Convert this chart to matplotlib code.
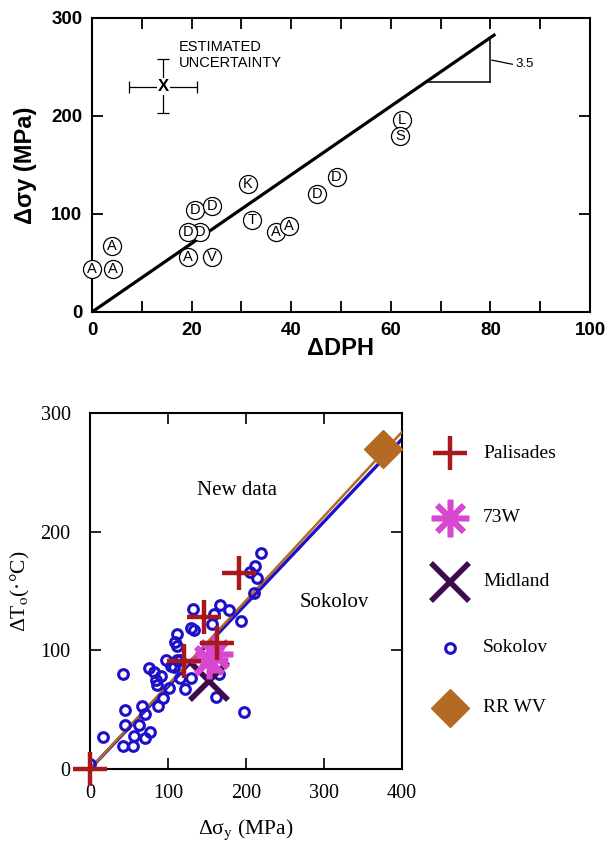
import numpy as np
import matplotlib
matplotlib.use("Agg")
import matplotlib.pyplot as plt

plt.rcParams["mathtext.fontset"] = "stix"

# ── upper panel: yield strength change vs hardness change ──────────────────
letters = ["A", "A", "A", "A", "V", "D", "D", "D", "D", "K", "T", "A", "A",
           "D", "D", "L", "S"]
d_dph = [0.0, 4.2, 4.0, 19.2, 24.1, 21.6, 19.2, 20.7, 24.1, 31.3, 32.1, 37.0,
         39.5, 45.2, 49.1, 62.3, 61.8]
d_sy = [44, 44, 67, 56.6, 56, 82, 82, 104, 108.4, 130.5, 94.2, 81.3, 88.1,
        120.3, 137.9, 195.5, 179.6]
fit_slope = 3.5
fit_xmax = 81.0
unc_x, unc_y = 14.3, 230.0
unc_dx = (7.4, 21.1)
unc_dy = (202.7, 258.6)

# ── lower panel: transition temperature shift vs yield strength change ─────
palisades_sy = [0, 120, 146, 163, 191]
palisades_t = [0, 91, 128, 106, 165]
w73_sy = [152, 159]
w73_t = [92, 97]
midland_sy = [152]
midland_t = [74]
rrwv_sy = [375]
rrwv_t = [270]
sokolov_sy = [0, 17, 42, 45, 45, 42, 55, 57, 63, 70, 77, 67, 70, 75, 82, 84,
              91, 86, 87, 93, 97, 101, 104, 112, 109, 112, 115, 116, 122,
              130, 132, 129, 133, 159, 157, 167, 178, 193, 165, 161, 197,
              219, 212, 214, 205, 210, 111, 108]
sokolov_t = [4, 27, 80, 50, 37, 19, 19, 28, 37, 26, 31, 53, 46, 85, 82, 75,
             78, 71, 53, 60, 92, 68, 87, 114, 107, 104, 92, 77, 67, 77, 135,
             119, 117, 131, 122, 138, 134, 125, 80, 61, 48, 182, 171, 161,
             166, 148, 92, 86]
sokolov_slope = 0.695
newdata_slope = 0.71

C = {
    "palisades": "#a8191e",
    "w73": "#d847cf",
    "midland": "#3e0c4e",
    "sokolov": "#1e10c8",
    "rrwv": "#b46a22",
}

fig = plt.figure(figsize=(6.06, 8.41), dpi=100)
W, H = 606, 841


def box(l, t, r, b):
    return [l / W, 1 - b / H, (r - l) / W, (b - t) / H]


# ═════════════════════════ upper panel ═════════════════════════════════════
sans = "Liberation Sans"
ax1 = fig.add_axes(box(92, 18, 590, 312))
ax1.set_xlim(0, 100)
ax1.set_ylim(0, 300)
ax1.set_xticks(range(0, 101, 20))
ax1.set_xticks(range(10, 100, 20), minor=True)
ax1.set_yticks([0, 100, 200, 300])
ax1.tick_params(which="both", direction="in", top=True, right=True,
                length=8, width=1.3, pad=7)
for lab in ax1.get_xticklabels() + ax1.get_yticklabels():
    lab.set_fontfamily(sans)
    lab.set_fontweight("bold")
    lab.set_fontsize(13.5)
for sp in ax1.spines.values():
    sp.set_linewidth(1.5)

xs = np.array([0, fit_xmax])
ax1.plot(xs, fit_slope * xs, color="black", lw=2.3, zorder=2,
         solid_capstyle="butt")

# slope triangle
y_base = 235
x_base = y_base / fit_slope
ax1.plot([x_base, 80], [y_base, y_base], color="black", lw=1.1)
ax1.plot([80, 80], [y_base, fit_slope * 80], color="black", lw=1.1)
ax1.plot([80.3, 84.4], [257, 252.8], color="black", lw=0.9)
ax1.text(85.0, 253, "3.5", fontsize=9.5, family=sans, va="center")

# estimated uncertainty cross
ax1.errorbar([unc_x], [unc_y],
             xerr=[[unc_x - unc_dx[0]], [unc_dx[1] - unc_x]],
             yerr=[[unc_y - unc_dy[0]], [unc_dy[1] - unc_y]],
             fmt="none", ecolor="black", elinewidth=0.9, capsize=4,
             capthick=0.9)
ax1.text(unc_x, unc_y, "X", fontsize=12, family=sans, fontweight="bold",
         ha="center", va="center",
         bbox=dict(boxstyle="square,pad=0.05", fc="white", ec="none"))
ax1.text(17.4, 262, "ESTIMATED\nUNCERTAINTY", fontsize=10.5, family=sans,
         va="center", linespacing=1.2)

for i, (lt, x, y) in enumerate(zip(letters, d_dph, d_sy)):
    ax1.plot([x], [y], marker="o", ms=13, mfc="white", mec="black",
             mew=0.9, zorder=3 + 2 * i, clip_on=False)
    ax1.text(x, y, lt, fontsize=10.5, family=sans, ha="center",
             va="center", zorder=4 + 2 * i)

ax1.set_xlabel("ΔDPH", fontsize=17, family=sans, fontweight="bold",
               labelpad=-1)
ax1.set_ylabel("Δσy (MPa)", fontsize=17, family=sans, fontweight="bold",
               labelpad=10)

# ═════════════════════════ lower panel ═════════════════════════════════════
serif = "Liberation Serif"
ax2 = fig.add_axes(box(90, 413, 402, 769))
ax2.set_xlim(0, 400)
ax2.set_ylim(0, 300)
ax2.set_xticks([0, 100, 200, 300, 400])
ax2.set_yticks([0, 100, 200, 300])
ax2.tick_params(direction="in", top=True, right=True, length=8, width=1.2)
ax2.tick_params(axis="x", pad=11)
ax2.tick_params(axis="y", pad=14)
for lab in ax2.get_xticklabels() + ax2.get_yticklabels():
    lab.set_fontfamily(serif)
    lab.set_fontsize(14.5)
for sp in ax2.spines.values():
    sp.set_linewidth(1.5)

xx = np.array([0, 400])
ax2.plot(xx, sokolov_slope * xx, color=C["sokolov"], lw=2.4, zorder=2)
ax2.plot(xx, newdata_slope * xx, color=C["rrwv"], lw=1.8, zorder=3)

ax2.plot(sokolov_sy, sokolov_t, ls="none", marker="o", ms=7, mfc="none",
         mec=C["sokolov"], mew=2.2, zorder=4)
ax2.plot(midland_sy, midland_t, ls="none", marker="x", ms=27,
         mec=C["midland"], mew=4.0, zorder=5)
ax2.plot(w73_sy, w73_t, ls="none", marker=(8, 2, 0), ms=27,
         mec=C["w73"], mew=4.0, zorder=6)
ax2.plot(palisades_sy, palisades_t, ls="none", marker="+", ms=25,
         mec=C["palisades"], mew=3.2, zorder=7, clip_on=False)
ax2.plot(rrwv_sy, rrwv_t, ls="none", marker="D", ms=19,
         mfc=C["rrwv"], mec=C["rrwv"], zorder=8)

ax2.text(188, 235, "New data", fontsize=15, family=serif, ha="center",
         va="center")
ax2.text(313, 140, "Sokolov", fontsize=15, family=serif, ha="center",
         va="center")

ax2.set_xlabel(r"Δσ$_\mathrm{y}$ (MPa)", fontsize=15.5, family=serif,
               labelpad=10)
ax2.set_ylabel(r"ΔT$_\mathrm{o}$(·°C)", fontsize=15.5, family=serif,
               labelpad=6)

# ── legend drawn in figure pixel space ─────────────────────────────────────
axl = fig.add_axes([0, 0, 1, 1], zorder=-1)
axl.set_xlim(0, W)
axl.set_ylim(H, 0)
axl.axis("off")
legend_rows = [
    ("Palisades", 453, dict(marker="+", ms=25, mec=C["palisades"], mew=3.2)),
    ("73W", 518, dict(marker=(8, 2, 0), ms=27, mec=C["w73"], mew=4.0)),
    ("Midland", 582, dict(marker="x", ms=27, mec=C["midland"], mew=4.0)),
    ("Sokolov", 648, dict(marker="o", ms=7, mfc="none", mec=C["sokolov"],
                          mew=2.2)),
    ("RR WV", 708, dict(marker="D", ms=19, mfc=C["rrwv"], mec=C["rrwv"])),
]
for label, yy, style in legend_rows:
    axl.plot([450], [yy], ls="none", **style)
    axl.text(483, yy, label, fontsize=14, family=serif, va="center")

fig.savefig("out.png", dpi=100, facecolor="white")
